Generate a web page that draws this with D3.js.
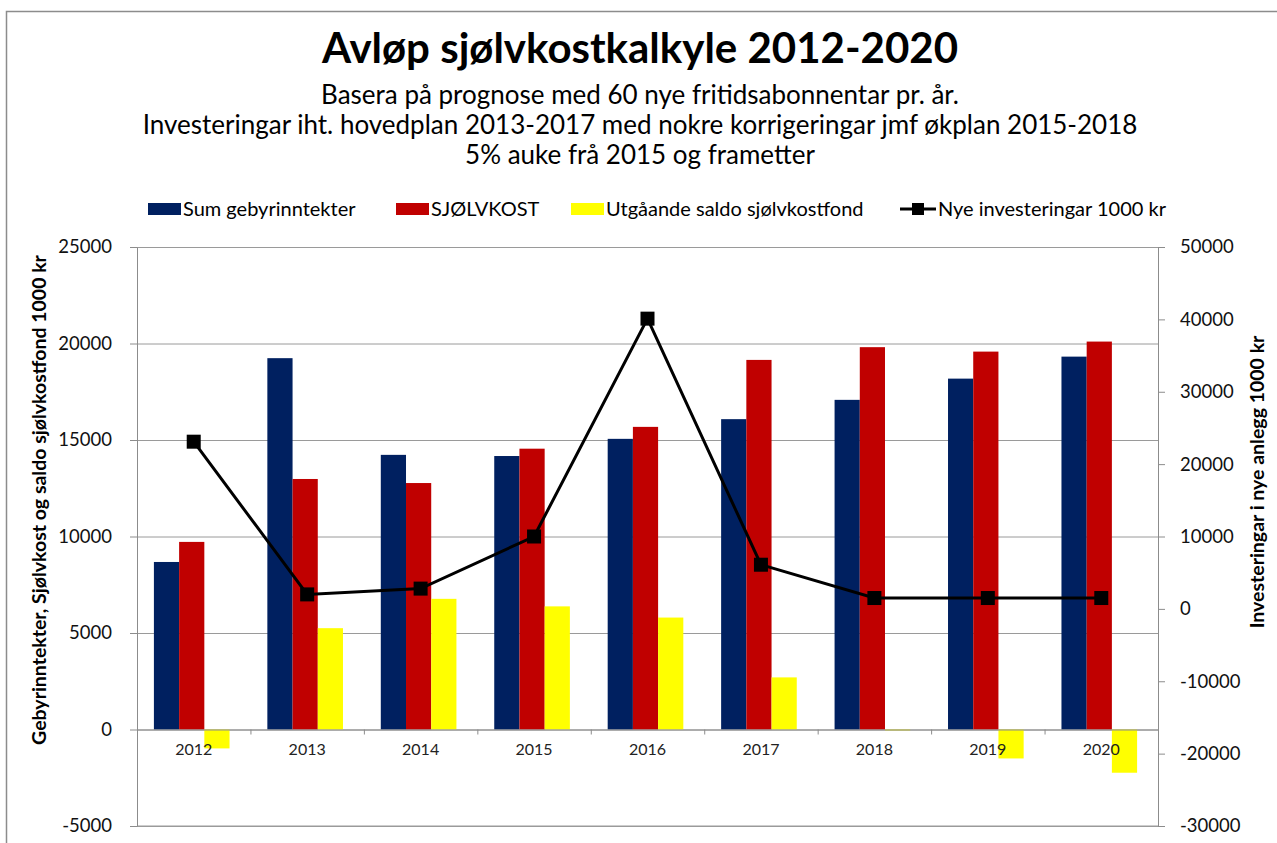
<!DOCTYPE html>
<html>
<head>
<meta charset="utf-8">
<script src="https://cdn.jsdelivr.net/npm/d3@7"></script>
<style>
  body { margin: 0; background: #fff; }
  svg { display: block; font-family: Lato, "Open Sans", sans-serif; }
</style>
</head>
<body>
<div class="chart"></div>
<script>
const years = ["2012", "2013", "2014", "2015", "2016", "2017", "2018", "2019", "2020"];
const gebyrinntekter = [8680, 19240, 14230, 14170, 15060, 16080, 17080, 18180, 19320];
const sjolvkost = [9720, 12980, 12770, 14550, 15680, 19150, 19810, 19580, 20100];
const saldoFond = [-980, 5250, 6770, 6380, 5800, 2700, -50, -1500, -2240];
const investeringar = [23100, 2000, 2800, 10000, 40100, 6100, 1500, 1500, 1500];
const leftTicks = [-5000, 0, 5000, 10000, 15000, 20000, 25000];
const rightTicks = [-30000, -20000, -10000, 0, 10000, 20000, 30000, 40000, 50000];
const barSeries = ["Sum gebyrinntekter", "SJØLVKOST", "Utgåande saldo sjølvkostfond"];
const lineSeries = "Nye investeringar 1000 kr";
const colors = ["#002060", "#C00000", "#FFFF00"];

const W = 1277, H = 843;
const plot = { left: 137, right: 1158, top: 247, bottom: 826 };

const svg = d3.select(".chart").append("svg")
  .attr("width", W).attr("height", H);

// outer frame
svg.append("rect")
  .attr("x", 6.5).attr("y", 11.5)
  .attr("width", 1400).attr("height", 1000)
  .attr("fill", "none").attr("stroke", "#8c8c8c").attr("stroke-width", 1.5);

// titles
svg.append("text")
  .attr("x", 640).attr("y", 63)
  .attr("text-anchor", "middle")
  .attr("font-size", 42).attr("font-weight", "bold")
  .text("Avløp sjølvkostkalkyle 2012-2020");

const subtitles = [
  "Basera på prognose med 60 nye fritidsabonnentar pr. år.",
  "Investeringar iht. hovedplan 2013-2017 med nokre korrigeringar jmf økplan 2015-2018",
  "5% auke frå 2015 og frametter"
];
svg.selectAll(".sub").data(subtitles).join("text")
  .attr("class", "sub")
  .attr("x", 640).attr("y", (d, i) => 104 + i * 30)
  .attr("text-anchor", "middle")
  .attr("font-size", 26)
  .text(d => d);

// scales
const x = d3.scaleBand().domain(years).range([plot.left, plot.right]);
const barW = x.bandwidth() / 4.5;
const xs = d3.scaleBand().domain(barSeries).range([0, barW * 3]);
const groupOffset = (x.bandwidth() - barW * 3) / 2 - 2;

const yL = d3.scaleLinear().domain([-5000, 25000]).range([plot.bottom, plot.top]);
const yR = d3.scaleLinear().domain([-30000, 50000]).range([plot.bottom, plot.top]);

// gridlines
svg.append("g")
  .attr("transform", `translate(${plot.left},0)`)
  .call(d3.axisLeft(yL).tickValues(leftTicks).tickSize(-(plot.right - plot.left)).tickFormat(""))
  .call(g => g.select(".domain").remove())
  .call(g => g.selectAll("line").attr("stroke", "#9a9a9a"));

// bars
const barData = [gebyrinntekter, sjolvkost, saldoFond];
barData.forEach((vals, si) => {
  svg.append("g").selectAll("rect").data(vals).join("rect")
    .attr("x", (d, i) => x(years[i]) + groupOffset + xs(barSeries[si]))
    .attr("width", xs.bandwidth())
    .attr("y", d => Math.min(yL(d), yL(0)))
    .attr("height", d => Math.abs(yL(d) - yL(0)))
    .attr("fill", colors[si]);
});

// x axis at zero
const xIdx = d3.scaleLinear().domain([0, years.length]).range([plot.left, plot.right]);
svg.append("g")
  .attr("transform", `translate(0,${yL(0)})`)
  .call(d3.axisBottom(xIdx).tickValues(d3.range(years.length + 1)).tickSize(5).tickFormat(""))
  .call(g => g.selectAll("line, path").attr("stroke", "#8c8c8c"));
svg.append("g")
  .attr("transform", `translate(0,${yL(0)})`)
  .call(d3.axisBottom(x).tickSize(0).tickPadding(14))
  .call(g => g.select(".domain").remove())
  .call(g => g.selectAll("text").attr("font-size", 16).attr("fill", "#222").attr("font-family", "Lato, sans-serif"));

// bottom border of plot
svg.append("line")
  .attr("x1", plot.left).attr("x2", plot.right)
  .attr("y1", plot.bottom).attr("y2", plot.bottom)
  .attr("stroke", "#9a9a9a");

// left axis
svg.append("g")
  .attr("transform", `translate(${plot.left},0)`)
  .call(d3.axisLeft(yL).tickValues(leftTicks).tickSize(7).tickPadding(18).tickSizeOuter(0).tickFormat(d => String(d)))
  .call(g => g.selectAll("line, path").attr("stroke", "#8c8c8c"))
  .call(g => g.selectAll("text").attr("font-size", 18.5).attr("fill", "#111").attr("font-family", "Lato, sans-serif"));

// right axis
svg.append("g")
  .attr("transform", `translate(${plot.right},0)`)
  .call(d3.axisRight(yR).tickValues(rightTicks).tickSize(7).tickPadding(15).tickSizeOuter(0).tickFormat(d => String(d)))
  .call(g => g.selectAll("line, path").attr("stroke", "#8c8c8c"))
  .call(g => g.selectAll("text").attr("font-size", 18.5).attr("fill", "#111").attr("font-family", "Lato, sans-serif"));

// axis titles
svg.append("text")
  .attr("transform", `translate(46,500) rotate(-90)`)
  .attr("text-anchor", "middle")
  .attr("font-size", 19.5).attr("font-weight", "bold")
  .text("Gebyrinntekter, Sjølvkost og saldo sjølvkostfond  1000 kr");
svg.append("text")
  .attr("transform", `translate(1264,482) rotate(-90)`)
  .attr("text-anchor", "middle")
  .attr("font-size", 19.5).attr("font-weight", "bold")
  .text("Investeringar i nye anlegg 1000 kr");

// investment line
const line = d3.line()
  .x((d, i) => x(years[i]) + x.bandwidth() / 2)
  .y(d => yR(d));
svg.append("path")
  .datum(investeringar)
  .attr("fill", "none").attr("stroke", "#000").attr("stroke-width", 3)
  .attr("d", line);
svg.append("g").selectAll("rect").data(investeringar).join("rect")
  .attr("x", (d, i) => x(years[i]) + x.bandwidth() / 2 - 7)
  .attr("y", d => yR(d) - 7)
  .attr("width", 14).attr("height", 14)
  .attr("fill", "#000");

// legend
const legendY = 209;
const legendX = [148, 396, 571];
barSeries.forEach((name, i) => {
  svg.append("rect")
    .attr("x", legendX[i]).attr("y", legendY - 6)
    .attr("width", 33).attr("height", 12)
    .attr("fill", colors[i]);
  svg.append("text")
    .attr("x", legendX[i] + 35).attr("y", legendY)
    .attr("dy", "0.35em")
    .attr("font-size", 20)
    .text(name);
});
svg.append("line")
  .attr("x1", 900).attr("x2", 936)
  .attr("y1", legendY).attr("y2", legendY)
  .attr("stroke", "#000").attr("stroke-width", 3);
svg.append("rect")
  .attr("x", 912).attr("y", legendY - 6)
  .attr("width", 12).attr("height", 12)
  .attr("fill", "#000");
svg.append("text")
  .attr("x", 938).attr("y", legendY)
  .attr("dy", "0.35em")
  .attr("font-size", 20)
  .text(lineSeries);
</script>
</body>
</html>
